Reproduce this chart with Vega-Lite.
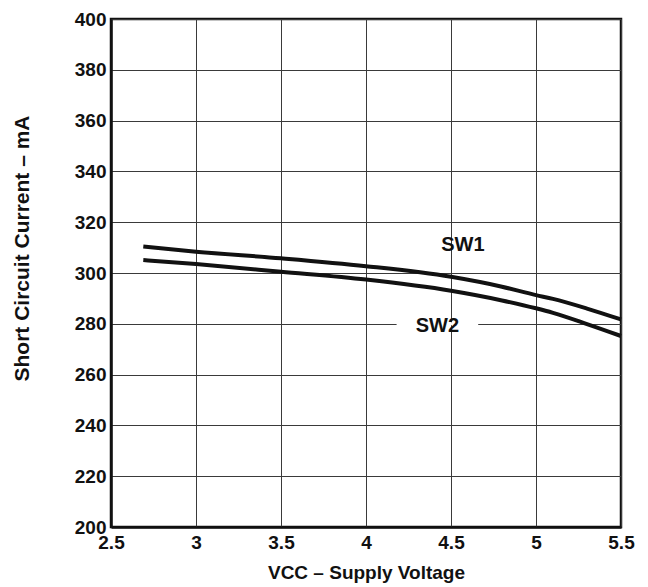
{
  "$schema": "https://vega.github.io/schema/vega-lite/v6.json",
  "width": 510,
  "height": 508,
  "autosize": {"type": "none"},
  "padding": {"left": 111, "top": 19, "right": 27, "bottom": 60},
  "background": "white",
  "config": {
    "font": "Liberation Sans",
    "view": {"stroke": "#111", "strokeWidth": 2.5},
    "axis": {
      "labelFont": "Liberation Sans",
      "labelFontWeight": "bold",
      "labelFontSize": 19,
      "labelColor": "#111",
      "titleFont": "Liberation Sans",
      "titleFontWeight": "bold",
      "titleFontSize": 19,
      "titleColor": "#111",
      "grid": true,
      "gridColor": "#3a3a3a",
      "gridWidth": 1,
      "gridOpacity": 1,
      "ticks": false,
      "domainColor": "#111",
      "domainWidth": 2.5
    }
  },
  "datasets": {
    "curves": [
      {"v": 2.69, "ma": 310.4, "s": "SW1"},
      {"v": 3.0, "ma": 308.4, "s": "SW1"},
      {"v": 3.5, "ma": 305.8, "s": "SW1"},
      {"v": 4.0, "ma": 302.7, "s": "SW1"},
      {"v": 4.5, "ma": 298.5, "s": "SW1"},
      {"v": 4.8, "ma": 294.6, "s": "SW1"},
      {"v": 5.0, "ma": 291.3, "s": "SW1"},
      {"v": 5.1, "ma": 289.8, "s": "SW1"},
      {"v": 5.3, "ma": 286.0, "s": "SW1"},
      {"v": 5.5, "ma": 281.7, "s": "SW1"},
      {"v": 2.69, "ma": 305.1, "s": "SW2"},
      {"v": 3.0, "ma": 303.5, "s": "SW2"},
      {"v": 3.5, "ma": 300.5, "s": "SW2"},
      {"v": 4.0, "ma": 297.4, "s": "SW2"},
      {"v": 4.5, "ma": 293.0, "s": "SW2"},
      {"v": 4.8, "ma": 289.2, "s": "SW2"},
      {"v": 5.0, "ma": 286.1, "s": "SW2"},
      {"v": 5.1, "ma": 284.3, "s": "SW2"},
      {"v": 5.3, "ma": 279.9, "s": "SW2"},
      {"v": 5.5, "ma": 275.2, "s": "SW2"}
    ],
    "labels": [
      {"v": 4.57, "ma": 311, "t": "SW1"},
      {"v": 4.42, "ma": 279.3, "t": "SW2"}
    ],
    "gaps": [
      {"v": 4.18, "v2": 4.66, "ma": 280}
    ]
  },
  "layer": [
    {
      "data": {"name": "gaps"},
      "mark": {"type": "rule", "color": "white", "strokeWidth": 3},
      "encoding": {
        "x": {"field": "v", "type": "quantitative", "scale": {"domain": [2.5, 5.5], "nice": false}, "axis": {"values": [2.5, 3, 3.5, 4, 4.5, 5, 5.5], "title": "VCC – Supply Voltage", "labelPadding": 6, "titlePadding": 11, "labelFlush": false, "format": "~g"}},
        "x2": {"field": "v2"},
        "y": {"field": "ma", "type": "quantitative", "scale": {"domain": [200, 400], "nice": false}, "axis": {"values": [200, 220, 240, 260, 280, 300, 320, 340, 360, 380, 400], "title": "Short Circuit Current – mA", "titleFontSize": 21, "titleY": 229, "labelPadding": 5, "titlePadding": 42}}
      }
    },
    {
      "data": {"name": "curves"},
      "mark": {"type": "line", "color": "#111", "strokeWidth": 4, "interpolate": "monotone"},
      "encoding": {
        "x": {"field": "v", "type": "quantitative"},
        "y": {"field": "ma", "type": "quantitative"},
        "detail": {"field": "s"}
      }
    },
    {
      "data": {"name": "labels"},
      "mark": {"type": "text", "font": "Liberation Sans", "fontWeight": "bold", "fontSize": 20, "color": "#111"},
      "encoding": {
        "x": {"field": "v", "type": "quantitative"},
        "y": {"field": "ma", "type": "quantitative"},
        "text": {"field": "t"}
      }
    }
  ]
}
